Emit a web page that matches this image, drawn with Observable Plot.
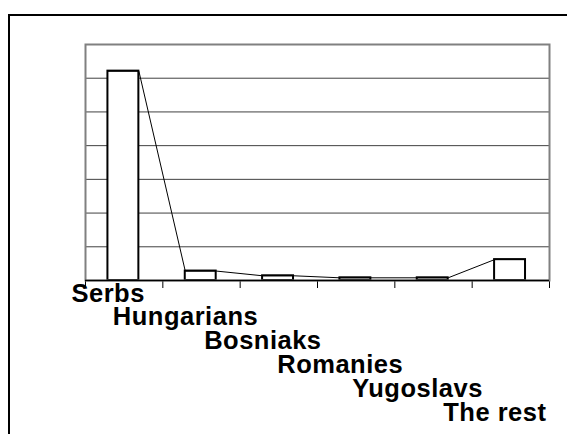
<!DOCTYPE html>
<html>
<head>
<meta charset="utf-8">
<script src="https://cdn.jsdelivr.net/npm/d3@7"></script>
<script src="https://cdn.jsdelivr.net/npm/@observablehq/plot@0.6"></script>
<style>
  html, body { margin: 0; padding: 0; background: white; overflow: hidden; width: 567px; height: 434px; }
  #box { position: absolute; left: 8px; top: 14px; width: 620px; height: 500px; border: 2px solid black; box-sizing: border-box; }
  #chart { position: absolute; left: 0; top: 0; }
  #chart g[aria-label="text"] text { letter-spacing: 0.5px; }
</style>
</head>
<body>
<div id="box"></div>
<div id="chart"></div>
<script>
const categories = ["Serbs", "Hungarians", "Bosniaks", "Romanies", "Yugoslavs", "The rest"];
const values = [62.1, 2.8, 1.4, 0.8, 0.8, 6.2];
const yTicks = [0, 10, 20, 30, 40, 50, 60, 70];

const barStart = 0.29, barEnd = 0.69; // bar inset within each category slot
const rows = categories.map((c, i) => ({i, cat: c, v: values[i]}));
const linePts = rows.flatMap(d => [{x: d.i + barStart, y: d.v}, {x: d.i + barEnd, y: d.v}]);

const labelMarks = rows.map((d, k) => Plot.text([d], {
  x: r => r.i + 0.5,
  text: "cat",
  frameAnchor: "bottom",
  dy: 21 + k * 23.8,
  dx: -16,
  fontSize: 25.5,
  fontWeight: "bold",
  fill: "black"
}));

const chart = Plot.plot({
  width: 567,
  height: 434,
  marginLeft: 85,
  marginRight: 18,
  marginTop: 44,
  marginBottom: 154,
  style: {background: "transparent", fontFamily: "'Liberation Sans', Arial, sans-serif", overflow: "visible"},
  x: {type: "linear", domain: [0, categories.length], ticks: d3.range(categories.length + 1), tickSize: 8, tickFormat: () => "", label: null},
  y: {domain: [yTicks[0], yTicks[yTicks.length - 1]], axis: null},
  marks: [
    Plot.ruleY(yTicks.slice(1, -1), {stroke: "#404040", strokeWidth: 1}),
    Plot.rectY(rows, {x1: d => d.i + barStart, x2: d => d.i + barEnd, y1: 0, y2: "v", fill: "white", stroke: "black", strokeWidth: 2}),
    Plot.line(linePts, {x: "x", y: "y", stroke: "black", strokeWidth: 1}),
    Plot.frame({stroke: "#808080", strokeWidth: 2}),
    Plot.ruleY([0], {stroke: "black", strokeWidth: 1.5}),
    ...labelMarks
  ]
});
document.getElementById("chart").appendChild(chart);
</script>
</body>
</html>
